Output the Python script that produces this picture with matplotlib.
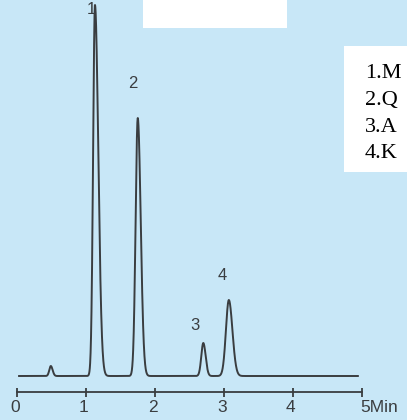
import matplotlib
matplotlib.use('Agg')
import matplotlib.pyplot as plt
from matplotlib.patches import Rectangle
import numpy as np

# peak table (time in min, height in detector units)
peak_rt = [0.49, 1.13, 1.75, 2.70, 3.07]
peak_height = [10, 371, 258, 33, 76]
peak_sigma_left = [0.022, 0.027, 0.031, 0.029, 0.042]
peak_sigma_right = [0.026, 0.048, 0.043, 0.034, 0.052]
peak_labels = ['', '1', '2', '3', '4']
label_pos = [None, (1.08, 367), (1.68, 293), (2.58, 50), (2.97, 100)]

# legend entries, only the part visible in the figure
compounds = ['1.M', '2.Q', '3.A', '4.K']
tick_values = [0, 1, 2, 3, 4, 5]
tick_labels = ['0', '1', '2', '3', '4', '5Min']

bg = '#c8e7f7'
ink = '#3a3d40'

t = np.linspace(0.03, 4.94, 3000)
signal = np.zeros_like(t)
for rt, h, sl, sr in zip(peak_rt, peak_height, peak_sigma_left, peak_sigma_right):
    s = np.where(t < rt, sl, sr)
    signal += h * np.exp(-0.5 * ((t - rt) / s) ** 2)

fig = plt.figure(figsize=(4.07, 4.20), dpi=100)
fig.patch.set_facecolor(bg)
ax = fig.add_axes([0, 0, 1, 1])
ax.set_facecolor(bg)
ax.set_xlim(-17 / 69, (407 - 17) / 69)
ax.set_ylim(-44, 376)
ax.axis('off')

ax.plot(t, signal, color=ink, lw=1.4, solid_joinstyle='round')

# time axis drawn by hand, like the original figure
ax.plot([0, 5], [-16, -16], color=ink, lw=1.3)
ax.vlines(tick_values, -21, -12, color=ink, lw=1.3)
for v, lab in zip(tick_values, tick_labels):
    ax.text(v - 0.03, -32, lab, ha='left' if lab.endswith('Min') else 'center',
            va='center', fontsize=12.5, family='Liberation Sans', color=ink)

for lab, pos in zip(peak_labels, label_pos):
    if pos is not None:
        ax.text(pos[0], pos[1], lab, ha='center', va='center', fontsize=12,
                family='Liberation Sans', color=ink)

# white boxes
ax.add_patch(Rectangle((143 / 407, 1 - 28 / 420), 144 / 407, 28 / 420,
                       transform=ax.transAxes, facecolor='white', edgecolor='none'))
ax.add_patch(Rectangle((344 / 407, 1 - 172 / 420), 63 / 407, 126 / 420,
                       transform=ax.transAxes, facecolor='white', edgecolor='none'))
for i, name in enumerate(compounds):
    ax.text(365 / 407, 1 - (74 + 26.5 * i) / 420, name, transform=ax.transAxes,
            ha='left', va='center', fontsize=16, family='Liberation Serif',
            color='black')

fig.savefig('out.png', dpi=100, facecolor=bg)
